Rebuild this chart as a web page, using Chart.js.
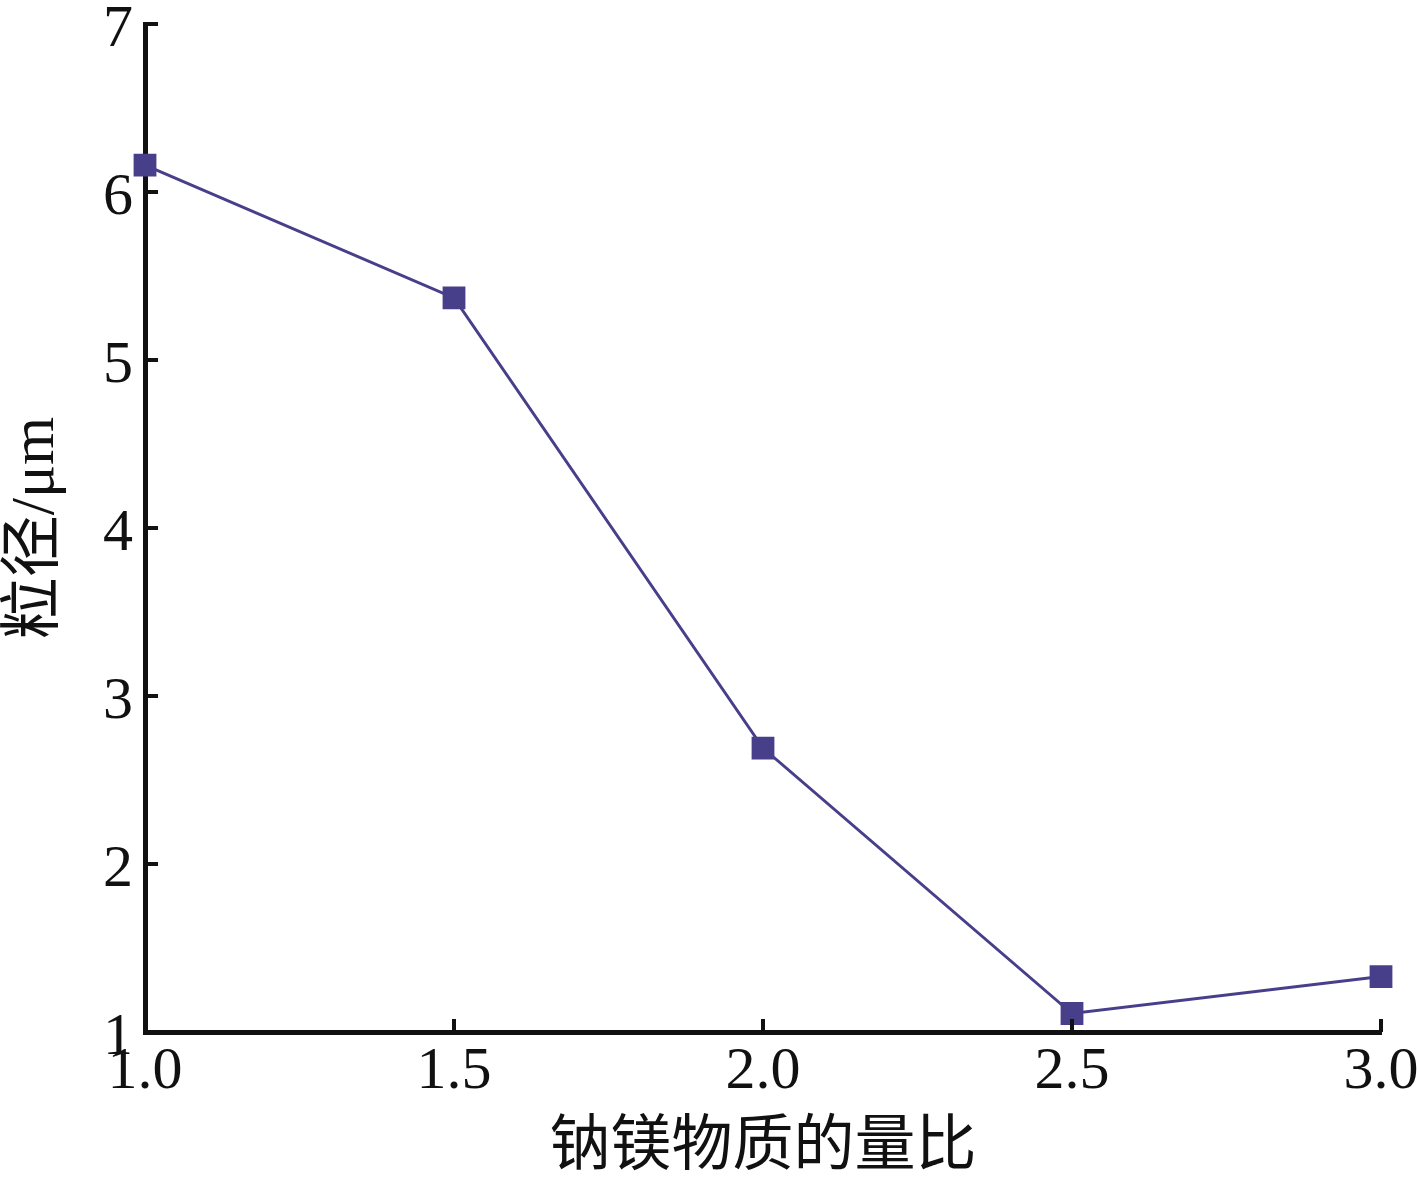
<!DOCTYPE html>
<html>
<head>
<meta charset="utf-8">
<script src="https://cdn.jsdelivr.net/npm/chart.js@4/dist/chart.umd.min.js"></script>
<style>
  html, body { margin: 0; padding: 0; background: #fff; }
  #wrap { width: 1417px; height: 1181px; }
</style>
</head>
<body>
<div id="wrap"><canvas id="chart" width="1417" height="1181"></canvas></div>
<script>
// data
const ratios = [1.0, 1.5, 2.0, 2.5, 3.0];
const sizes = [6.16, 5.37, 2.69, 1.11, 1.33];
const xTicks = [1.0, 1.5, 2.0, 2.5, 3.0];
const yTicks = [1, 2, 3, 4, 5, 6, 7];

const lineColor = '#483f8b';
const latin = '"Liberation Serif", "Times New Roman", serif';
const cjk = '"Liberation Serif", "Noto Sans CJK SC", serif';

// ticks point into the plot, so draw them ourselves from the scales
const inwardTicks = {
    id: 'inwardTicks',
    afterDatasetsDraw(chart) {
        const ctx = chart.ctx;
        const xs = chart.scales.x;
        const ys = chart.scales.y;
        const area = chart.chartArea;
        ctx.save();
        ctx.strokeStyle = '#111';
        ctx.lineWidth = 4;
        ctx.lineCap = 'butt';
        xTicks.forEach(v => {
            const px = xs.getPixelForValue(v);
            ctx.beginPath();
            ctx.moveTo(px, area.bottom);
            ctx.lineTo(px, area.bottom - 13);
            ctx.stroke();
        });
        yTicks.forEach(v => {
            const py = ys.getPixelForValue(v);
            ctx.beginPath();
            ctx.moveTo(area.left, py);
            ctx.lineTo(area.left + 13, py);
            ctx.stroke();
        });
        ctx.restore();
    }
};

const ctx = document.getElementById('chart').getContext('2d');
new Chart(ctx, {
    type: 'line',
    data: {
        datasets: [{
            label: '粒径',
            data: ratios.map((r, i) => ({ x: r, y: sizes[i] })),
            borderColor: lineColor,
            backgroundColor: lineColor,
            borderWidth: 3,
            pointStyle: 'rect',
            pointRadius: 14,
            pointHoverRadius: 14,
            fill: false,
            tension: 0,
            clip: false
        }]
    },
    options: {
        responsive: false,
        animation: false,
        events: [],
        layout: { padding: { top: 24, right: 36, left: 0, bottom: 0 } },
        plugins: {
            legend: { display: false },
            tooltip: { enabled: false }
        },
        scales: {
            x: {
                type: 'linear',
                min: 1,
                max: 3,
                afterBuildTicks: s => { s.ticks = xTicks.map(v => ({ value: v })); },
                afterFit: s => {
                    s.height = 149;
                    s.paddingLeft = 0;
                    s.paddingRight = 0;
                },
                grid: { display: true, drawOnChartArea: false, drawTicks: false },
                border: { display: true, color: '#111', width: 5 },
                ticks: {
                    color: '#111',
                    padding: 4,
                    maxRotation: 0,
                    font: { family: latin, size: 60 },
                    callback: v => Number(v).toFixed(1)
                },
                title: {
                    display: true,
                    text: '钠镁物质的量比',
                    color: '#111',
                    font: { family: cjk, size: 61, lineHeight: 1 },
                    padding: { top: 0, bottom: 2 }
                }
            },
            y: {
                type: 'linear',
                min: 1,
                max: 7,
                afterBuildTicks: s => { s.ticks = yTicks.map(v => ({ value: v })); },
                afterFit: s => {
                    s.width = 145;
                    s.paddingTop = 0;
                    s.paddingBottom = 0;
                },
                grid: { display: true, drawOnChartArea: false, drawTicks: false },
                border: { display: true, color: '#111', width: 5 },
                ticks: {
                    color: '#111',
                    padding: 12,
                    labelOffset: 6,
                    font: { family: latin, size: 60 }
                },
                title: {
                    display: true,
                    text: '粒径/μm',
                    color: '#111',
                    font: { family: cjk, size: 62, lineHeight: 1 },
                    padding: { top: 6, bottom: 0 }
                }
            }
        }
    },
    plugins: [inwardTicks]
});
</script>
</body>
</html>
